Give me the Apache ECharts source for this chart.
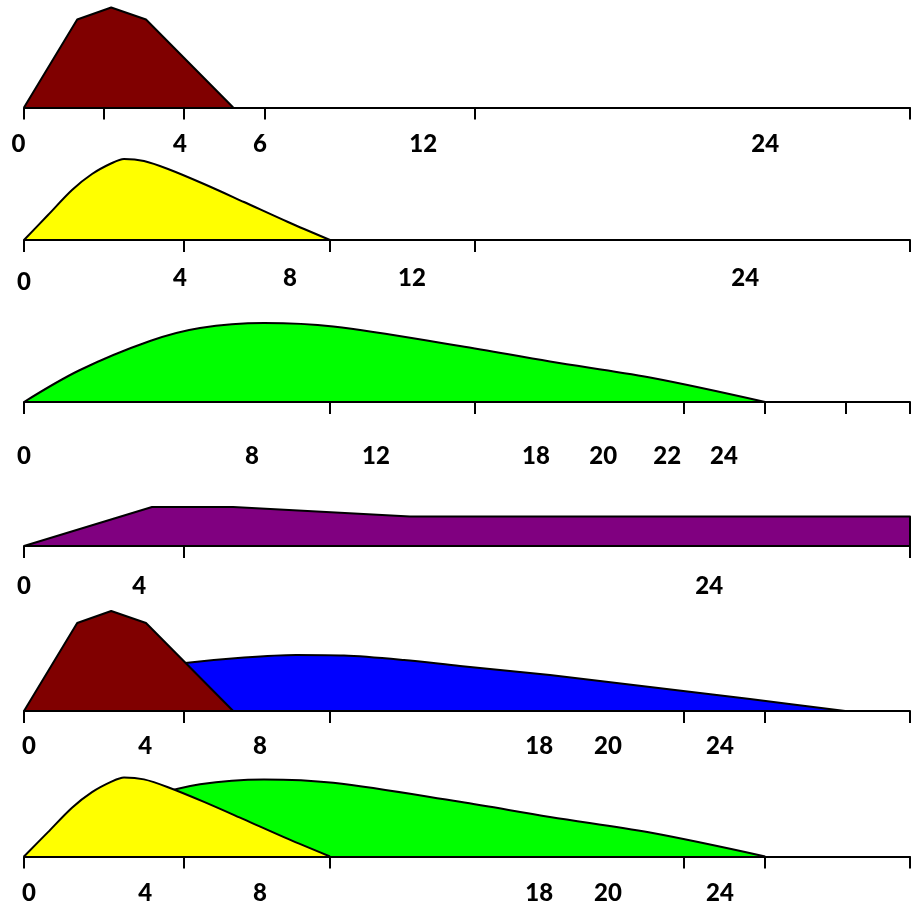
<!DOCTYPE html>
<html><head><meta charset="utf-8">
<script src="https://cdn.jsdelivr.net/npm/echarts@6/dist/echarts.min.js"></script>
<style>html,body{margin:0;padding:0;background:#fff}#c{width:912px;height:905px}</style>
</head><body><div id="c"></div>
<script>
// ---- data (x in axis units along the time line, y = relative activity) ----
const rapidX   = [0, 1.33, 2.18, 3.05, 5.23];
const rapidY   = [0, 88, 100, 88, 0];
const regularX = [0, 0.6, 1.2, 1.7, 2.2, 2.5, 3.0, 3.6, 4.5, 5.5, 6.6, 7.65];
const regularY = [0, 25, 50, 66, 77, 81, 79, 71, 56, 38, 18, 0];
const nphX     = [0, 1.4, 3.15, 4.4, 6.0, 7.73, 10.9, 13.15, 15.65, 18.53];
const nphY     = [0, 32, 61, 74, 79, 75.5, 56, 40.5, 24.5, 0];
const longX    = [0, 3.2, 5.23, 9.65, 22.15, 22.15];
const longY    = [0, 39, 39, 29.5, 29.5, 0];
const premixX  = [0, 1.0, 2.0, 3.0, 4.03, 5.5, 6.8, 8.0, 9.5, 10.9, 13.15, 15.65, 18.15, 20.53];
const premixY  = [0, 18, 32, 42, 48, 53.5, 56, 55.5, 51, 45, 36, 24, 12, 0];

// tick marks per panel (axis units)
const ticks1 = [0, 2, 4, 6.03, 11.28, 22.15];
const ticks2 = [0, 4, 7.65, 11.28, 22.15];
const ticks3 = [0, 7.65, 11.28, 16.5, 18.53, 20.55, 22.15];
const ticks4 = [0, 4, 22.15];
const ticks5 = [0, 4, 7.65, 16.5, 18.53, 22.15];
const ticks6 = [0, 4, 7.65, 16.5, 18.53, 22.15];

// tick labels per panel: where they sit (axis units) and their text
const labelAt1 = [0, 3.9, 5.9, 9.98, 18.53];
const labelTx1 = ['0', '4', '6', '12', '24'];
const labelAt2 = [0, 3.9, 6.65, 9.7, 18.03];
const labelTx2 = ['0', '4', '8', '12', '24'];
const labelAt3 = [0, 5.7, 8.8, 12.8, 14.48, 16.08, 17.5];
const labelTx3 = ['0', '8', '12', '18', '20', '22', '24'];
const labelAt4 = [0, 2.88, 17.13];
const labelTx4 = ['0', '4', '24'];
const labelAt5 = [0.125, 3.03, 5.9, 12.88, 14.6, 17.4];
const labelTx5 = ['0', '4', '8', '18', '20', '24'];
const labelAt6 = [0.125, 3.03, 5.9, 12.88, 14.6, 17.4];
const labelTx6 = ['0', '4', '8', '18', '20', '24'];

const AXIS_MAX = 22.15;
const Y_MAX = 105;

function pairs(xs, ys) { return xs.map((x, i) => [x, ys[i]]); }

const panels = [
  { axisY: 107.5, margin: 24.5, ticks: ticks1, at: labelAt1, tx: labelTx1, zeroRich: 'l' },
  { axisY: 240,   margin: 26,   ticks: ticks2, at: labelAt2, tx: labelTx2, zeroRich: 'd' },
  { axisY: 402,   margin: 42.5, ticks: ticks3, at: labelAt3, tx: labelTx3 },
  { axisY: 546,   margin: 28.5, ticks: ticks4, at: labelAt4, tx: labelTx4 },
  { axisY: 711,   margin: 23.5, ticks: ticks5, at: labelAt5, tx: labelTx5 },
  { axisY: 859,   margin: 24.5, ticks: ticks6, at: labelAt6, tx: labelTx6 }
];

const font = { color: '#000', fontFamily: 'Lato', fontWeight: 900, fontSize: 24 };

const grid = [], xAxis = [], yAxis = [];
panels.forEach((p, i) => {
  grid.push({ left: 24, right: 2, top: p.axisY - Y_MAX, height: Y_MAX, containLabel: false });
  xAxis.push({
    type: 'value', gridIndex: i, min: 0, max: AXIS_MAX, z: 10,
    axisLine: { show: true, onZero: false, lineStyle: { color: '#000', width: 2 } },
    axisTick: { show: true, customValues: p.ticks, length: 12, lineStyle: { color: '#000', width: 2 } },
    splitLine: { show: false },
    axisLabel: Object.assign({
      show: true, customValues: p.at, margin: p.margin, showMinLabel: true, showMaxLabel: true,
      formatter: function (v) {
        let best = 0, bd = 1e9;
        p.at.forEach((a, k) => { const d = Math.abs(a - v); if (d < bd) { bd = d; best = k; } });
        const t = p.tx[best];
        if (best === 0 && p.zeroRich) return '{' + p.zeroRich + '|' + t + '}';
        return t;
      },
      rich: {
        l: Object.assign({ padding: [0, 11, 0, 0] }, font),
        d: Object.assign({ padding: [4, 0, 0, 0] }, font)
      }
    }, font)
  });
  yAxis.push({ type: 'value', gridIndex: i, min: 0, max: Y_MAX, show: false });
});

function area(name, i, xs, ys, color, smooth, z) {
  return {
    name: name, type: 'line', xAxisIndex: i, yAxisIndex: i, data: pairs(xs, ys),
    smooth: smooth, showSymbol: false, symbol: 'none',
    clip: false, z: z, silent: true,
    lineStyle: { color: '#000', width: 2, join: 'round' },
    areaStyle: { color: color, opacity: 1 }
  };
}

const series = [
  area('Rapid', 0, rapidX, rapidY, '#800000', false, 3),
  area('Regular', 1, regularX, regularY, '#FFFF00', 0.3, 3),
  area('NPH', 2, nphX, nphY, '#00FF00', 0.35, 3),
  area('Long', 3, longX, longY, '#800080', false, 3),
  area('Premix', 4, premixX, premixY, '#0000FF', 0.3, 2),
  area('Rapid', 4, rapidX, rapidY, '#800000', false, 3),
  area('NPH', 5, nphX, nphY, '#00FF00', 0.35, 2),
  area('Regular', 5, regularX, regularY, '#FFFF00', 0.3, 3)
];

const chart = echarts.init(document.getElementById('c'), null, { renderer: 'canvas' });
chart.setOption({ animation: false, backgroundColor: '#fff', grid, xAxis, yAxis, series });
</script></body></html>
